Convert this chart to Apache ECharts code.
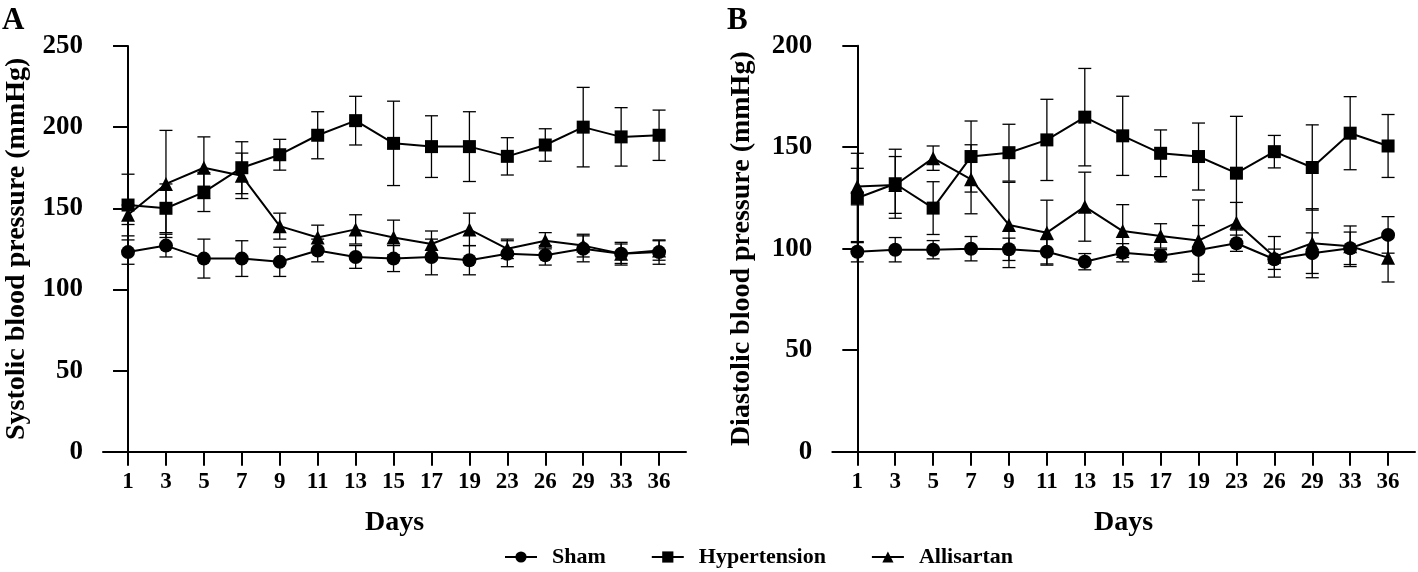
<!DOCTYPE html>
<html>
<head>
<meta charset="utf-8">
<script src="https://cdn.jsdelivr.net/npm/echarts@6/dist/echarts.min.js"></script>
<style>
html,body{margin:0;padding:0;background:#fff;}
#chart{width:1418px;height:572px;}
</style>
</head>
<body>
<div id="chart"></div>
<script>
// ---- data ----
const days = ['1','3','5','7','9','11','13','15','17','19','23','26','29','33','36'];
const seriesNames = ['Sham','Hypertension','Allisartan'];

// Panel A: systolic blood pressure (mean, SD)
const sbpSham      = [123, 127, 119, 119, 117, 124, 120, 119, 120, 118, 122, 121, 125, 122, 123];
const sbpShamSD    = [7.5, 7, 12, 11, 9, 7, 7, 8, 11, 9, 8, 6, 8, 7, 7.5];
const sbpHyper     = [152, 150, 160, 175, 183, 195, 204, 190, 188, 188, 182, 189, 200, 194, 195];
const sbpHyperSD   = [19, 15, 12, 16, 9.5, 14.5, 15, 26, 19, 21.5, 11.5, 10, 24.5, 18, 15.5];
const sbpAllis     = [146, 165, 175, 170, 139, 132, 137, 132, 128, 137, 125, 130, 127, 122, 124];
const sbpAllisSD   = [6, 33, 19, 14, 8, 7.6, 9, 10.7, 8, 10, 6, 5, 7, 6, 6];

// Panel B: diastolic blood pressure (mean, SD)
const dbpSham      = [98.5, 99.5, 99.5, 100, 99.7, 98.5, 93.6, 98, 96.5, 99.4, 102.7, 94.8, 97.8, 100.2, 106.8];
const dbpShamSD    = [5, 6, 4.5, 6, 5.5, 6, 4, 4.5, 3, 12, 4, 5, 10, 8, 9];
const dbpHyper     = [125, 132, 120, 145.4, 147.3, 153.6, 164.8, 155.6, 147, 145.4, 137.2, 147.8, 140, 156.9, 150.6];
const dbpHyperSD   = [22, 17, 13, 17.5, 14, 20, 24, 19.5, 11.5, 16.5, 28, 8, 21, 18, 15.5];
const dbpAllis     = [130.6, 131.4, 144.6, 134.2, 111.7, 107.9, 120.7, 108.7, 106.3, 104, 112.8, 96, 102.7, 101.2, 95.6];
const dbpAllisSD   = [9, 14, 6, 17, 21, 16, 17, 13, 6, 20, 10, 10, 17, 10, 12];

const sbpTicks = [0, 50, 100, 150, 200, 250];
const dbpTicks = [0, 50, 100, 150, 200];

// ---- helpers ----
const FONT = "'Liberation Serif', 'Times New Roman', serif";
const idx = days.map((d, i) => i);
const pts = arr => arr.map((v, i) => [i, v]);
const errs = (m, sd) => m.map((v, i) => [i, v - sd[i], v + sd[i]]);

function errorRender(params, api) {
  const x = api.value(0), lo = api.value(1), hi = api.value(2);
  const a = api.coord([x, lo]), b = api.coord([x, hi]);
  const w = 6.5;
  const st = { stroke: '#000', lineWidth: 1.3 };
  return {
    type: 'group',
    children: [
      { type: 'line', shape: { x1: a[0], y1: a[1], x2: b[0], y2: b[1] }, style: st },
      { type: 'line', shape: { x1: a[0] - w, y1: a[1], x2: a[0] + w, y2: a[1] }, style: st },
      { type: 'line', shape: { x1: b[0] - w, y1: b[1], x2: b[0] + w, y2: b[1] }, style: st }
    ]
  };
}

function xAxis(gridIndex) {
  return {
    type: 'value', gridIndex, min: -0.66, max: 14.71,
    name: 'Days', nameLocation: 'middle', nameGap: 57,
    nameTextStyle: { fontFamily: FONT, fontWeight: 'bold', fontSize: 28, color: '#000' },
    axisLine: { show: true, onZero: false, lineStyle: { color: '#000', width: 2 } },
    axisTick: { show: true, length: 14, lineStyle: { color: '#000', width: 2 }, customValues: idx },
    axisLabel: { customValues: idx, formatter: v => days[Math.round(v)], margin: 19,
      fontFamily: FONT, fontWeight: 'bold', fontSize: 23, color: '#000' },
    splitLine: { show: false }
  };
}
function yAxis(gridIndex, ticks, name, gap) {
  return {
    type: 'value', gridIndex, min: ticks[0], max: ticks[ticks.length - 1], interval: ticks[1] - ticks[0],
    name, nameLocation: 'middle', nameGap: gap, nameRotate: 90,
    nameTextStyle: { fontFamily: FONT, fontWeight: 'bold', fontSize: 28, color: '#000' },
    axisLine: { show: true, lineStyle: { color: '#000', width: 2 } },
    axisTick: { show: true, length: 15, lineStyle: { color: '#000', width: 2 } },
    axisLabel: { margin: 20, fontFamily: FONT, fontWeight: 'bold', fontSize: 27, color: '#000' },
    splitLine: { show: false }
  };
}
function lineSeries(name, data, symbol, size, g) {
  return {
    type: 'line', name, data: pts(data), xAxisIndex: g, yAxisIndex: g,
    symbol, symbolSize: size, showSymbol: true,
    lineStyle: { color: '#000', width: 2 }, itemStyle: { color: '#000' },
    z: 3, animation: false
  };
}
function errSeries(data, sd, g) {
  return {
    type: 'custom', name: 'err', data: errs(data, sd), xAxisIndex: g, yAxisIndex: g,
    renderItem: errorRender, encode: { x: 0, y: [1, 2] }, z: 2, silent: true, animation: false
  };
}

const chart = echarts.init(document.getElementById('chart'), null, { renderer: 'canvas' });
chart.setOption({
  backgroundColor: '#fff',
  animation: false,
  grid: [
    { left: 103, top: 46, width: 583, height: 405.7 },
    { left: 832.3, top: 45.7, width: 582.7, height: 406 }
  ],
  xAxis: [xAxis(0), xAxis(1)],
  yAxis: [
    yAxis(0, sbpTicks, 'Systolic blood pressure (mmHg)', 72),
    yAxis(1, dbpTicks, 'Diastolic blood pressure (mmHg)', 77)
  ],
  legend: {
    data: seriesNames, left: 499, top: 541, itemWidth: 32, itemHeight: 14, itemGap: 45,
    textStyle: { fontFamily: FONT, fontWeight: 'bold', fontSize: 22, color: '#000', padding: [0, 0, 0, 10] }
  },
  graphic: [
    { type: 'text', left: 2, top: 5, style: { text: 'A', font: 'bold 31px ' + FONT, fill: '#000' } },
    { type: 'text', left: 727, top: 5, style: { text: 'B', font: 'bold 31px ' + FONT, fill: '#000' } }
  ],
  series: [
    errSeries(sbpSham, sbpShamSD, 0),
    errSeries(sbpHyper, sbpHyperSD, 0),
    errSeries(sbpAllis, sbpAllisSD, 0),
    lineSeries('Sham', sbpSham, 'circle', 14, 0),
    lineSeries('Hypertension', sbpHyper, 'rect', 13, 0),
    lineSeries('Allisartan', sbpAllis, 'triangle', 14, 0),
    errSeries(dbpSham, dbpShamSD, 1),
    errSeries(dbpHyper, dbpHyperSD, 1),
    errSeries(dbpAllis, dbpAllisSD, 1),
    lineSeries('Sham', dbpSham, 'circle', 14, 1),
    lineSeries('Hypertension', dbpHyper, 'rect', 13, 1),
    lineSeries('Allisartan', dbpAllis, 'triangle', 14, 1)
  ]
});
</script>
</body>
</html>
